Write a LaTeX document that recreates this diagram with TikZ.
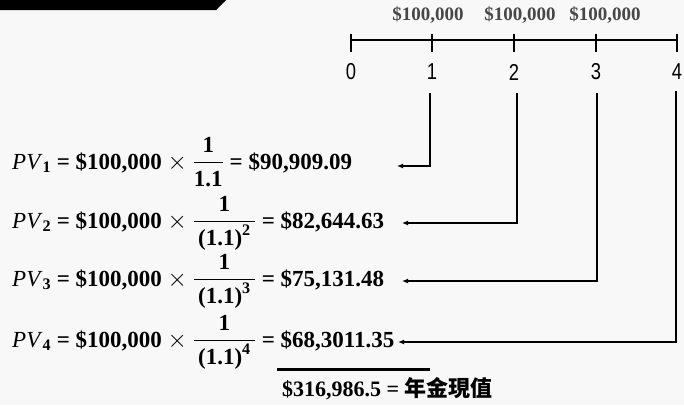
\documentclass[tikz,border=0pt]{standalone}
\usepackage{fontspec}
\usepackage{amsmath}
\usepackage{graphicx}
\setmainfont{Liberation Serif}
\setsansfont{Liberation Sans}
\newfontfamily\cjk{Noto Sans CJK TC}
\usetikzlibrary{arrows.meta}
\definecolor{bg}{HTML}{F8F8F8}
\newcommand{\pvrow}[3]{\textit{PV}$_{\textbf{#1}}$ \textbf{= \$100,000} $\times$ $\dfrac{\textbf{1}\rule[-4pt]{0pt}{4pt}}{\rule{0pt}{19pt}#2}$ \textbf{= \$#3}}
\begin{document}
\begin{tikzpicture}[x=1pt,y=-1pt,
  axisline/.style={line width=1.6pt},
  tickline/.style={line width=1.6pt},
  num/.style={font=\sffamily\fontsize{23}{26}\selectfont, inner sep=0pt},
  amt/.style={font=\bfseries\fontsize{19}{22}\selectfont, text=black!72, inner sep=0pt},
  eqrow/.style={anchor=base west, inner sep=0pt, font=\fontsize{23}{27}\selectfont},
  conn/.style={line width=1.5pt, -{Latex[length=6pt,width=5pt]}}
]
\fill[bg] (0,0) rectangle (684,405);
\useasboundingbox (0,0) rectangle (684,405);
\fill[black] (0,0) -- (226,0) -- (216,10) -- (0,10) -- cycle;

% timeline
\coordinate (n0) at (351,40);
\coordinate (n1) at (432,40);
\coordinate (n2) at (514,40);
\coordinate (n3) at (596,40);
\coordinate (n4) at (677,40);
\draw[axisline] (n0) -- (n4);
\foreach \i in {0,...,4} \draw[tickline] (n\i) ++(0,-6) -- ++(0,18);

\node[num] (l0) at (351,72) {\scalebox{0.8}[1]{0}};
\node[num] (l1) at (432,72) {\scalebox{0.8}[1]{1}};
\node[num] (l2) at (514,72) {\scalebox{0.8}[1]{2}};
\node[num] (l3) at (596,72) {\scalebox{0.8}[1]{3}};
\node[num] (l4) at (677,72) {\scalebox{0.8}[1]{4}};

\node[amt] (a1) at (428,15) {\$100,000};
\node[amt] (a2) at (520,15) {\$100,000};
\node[amt] (a3) at (605,15) {\$100,000};

% equations
\node[eqrow] (r1) at (12,169) {\pvrow{1}{\textbf{1.1}}{90,909.09}};
\node[eqrow] (r2) at (12,228) {\pvrow{2}{\,\textbf{(1.1)}^{\textbf{2}}\,}{82,644.63}};
\node[eqrow] (r3) at (12,286) {\pvrow{3}{\,\textbf{(1.1)}^{\textbf{3}}\,}{75,131.48}};
\node[eqrow] (r4) at (12,347) {\pvrow{4}{\,\textbf{(1.1)}^{\textbf{4}}\,}{68,3011.35}};

% connectors
\coordinate (d1) at (430,93);
\coordinate (d2) at (517,93);
\coordinate (d3) at (597,93);
\coordinate (d4) at (676,91);
\coordinate (p1) at (397,166);
\coordinate (p2) at (402,223);
\coordinate (p3) at (402,281);
\coordinate (p4) at (398,342);
\draw[conn, line width=2pt] (d1) |- (p1);
\draw[conn] (d2) |- (p2);
\draw[conn] (d3) |- (p3);
\draw[conn] (d4) |- (p4);

% total
\coordinate (u1) at (277,369);
\coordinate (u2) at (430,369);
\draw[line width=3pt] (u1) -- (u2);
\node[anchor=base west, inner sep=0pt, font=\bfseries\fontsize{22}{26}\selectfont] (tot) at (282,396) {\$316,986.5 = {\cjk 年金現值}};
\end{tikzpicture}
\end{document}
